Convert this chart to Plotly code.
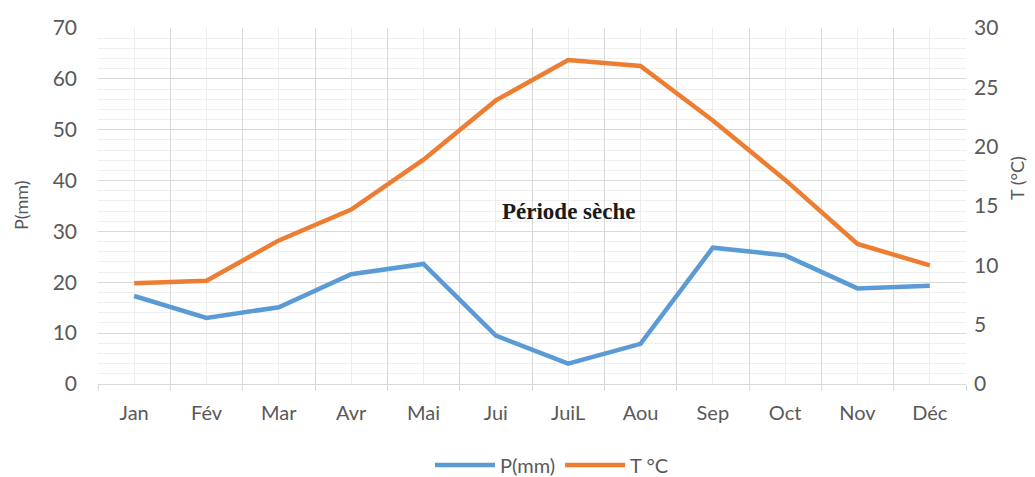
import plotly.graph_objects as go

# Monthly climate data
months = ["Jan", "Fév", "Mar", "Avr", "Mai", "Jui", "JuiL", "Aou", "Sep", "Oct", "Nov", "Déc"]
precip_mm = [17.3, 13.0, 15.1, 21.6, 23.6, 9.5, 4.0, 7.9, 26.8, 25.3, 18.8, 19.3]
temp_c = [8.5, 8.7, 12.1, 14.7, 18.9, 23.9, 27.3, 26.8, 22.2, 17.2, 11.8, 10.0]

p_ticks = [0, 10, 20, 30, 40, 50, 60, 70]
t_ticks = [0, 5, 10, 15, 20, 25, 30]

BLUE = "#5b9bd5"
ORANGE = "#ed7d31"
TXT = "#595959"
GRID = "#d9d9d9"
FONT = "Lato, Open Sans, sans-serif"

# the page body has an 8px margin, so the figure is a bit smaller
OFF = 8
W, H = 1035 - OFF, 477 - OFF
L, R, T, B = 98 - OFF, 69, 28 - OFF, 93

fig = go.Figure()

fig.add_trace(go.Scatter(
    x=months, y=precip_mm, name="P(mm)", mode="lines",
    line=dict(color=BLUE, width=4.5), xaxis="x", yaxis="y",
))
fig.add_trace(go.Scatter(
    x=months, y=temp_c, name="T °C", mode="lines",
    line=dict(color=ORANGE, width=4.5), xaxis="x2", yaxis="y2",
))

fig.add_annotation(
    x="JuiL", y=34, xref="x", yref="y", text="<b>Période sèche</b>",
    showarrow=False, font=dict(family="Liberation Serif, serif", size=23, color="#1a1a1a"),
)


def px_to_paper(px, py):
    return (px - OFF - L) / (W - L - R), (H - B - (py - OFF)) / (H - T - B)


ax, ay = px_to_paper(21, 205)
fig.add_annotation(
    x=ax, y=ay, xref="paper", yref="paper", text="P(mm)", textangle=-90,
    xanchor="center", yanchor="middle",
    showarrow=False, font=dict(family=FONT, size=18, color=TXT),
)
ax, ay = px_to_paper(1017, 178)
fig.add_annotation(
    x=ax, y=ay, xref="paper", yref="paper", text="T (°C)", textangle=-90,
    xanchor="center", yanchor="middle",
    showarrow=False, font=dict(family=FONT, size=18, color=TXT),
)
lx, ly = px_to_paper(552, 465)

fig.update_layout(
    width=W, height=H,
    margin=dict(l=L, r=R, t=T, b=B, autoexpand=False),
    plot_bgcolor="white", paper_bgcolor="white",
    font=dict(family=FONT, size=20, color=TXT),
    showlegend=True,
    legend=dict(orientation="h", x=lx, xanchor="center", y=ly, yanchor="middle",
                font=dict(size=20, color=TXT), itemwidth=60),
    xaxis=dict(
        type="category", categoryarray=months, range=[-0.5, 11.5],
        tickson="boundaries", showgrid=True, gridcolor=GRID, gridwidth=1,
        ticks="outside", ticklen=6, tickcolor=GRID,
        showline=True, linecolor=GRID, ticklabelstandoff=11, automargin=False,
        tickfont=dict(size=20, color=TXT), fixedrange=True,
    ),
    xaxis2=dict(
        type="category", categoryarray=months, range=[-0.5, 11.5],
        overlaying="x", showgrid=True, gridcolor="#ececec", gridwidth=1,
        showticklabels=False, ticks="", automargin=False,
    ),
    yaxis=dict(
        range=[0, 70], tickvals=p_ticks, showgrid=True, gridcolor=GRID,
        minor=dict(dtick=2, showgrid=True, gridcolor="#efefef"),
        zeroline=False, ticks="", ticklabelstandoff=20, automargin=False,
        tickfont=dict(size=21, color=TXT),
    ),
    yaxis2=dict(
        range=[0, 30], tickvals=t_ticks, overlaying="y", side="right", anchor="x2",
        showgrid=False, zeroline=False, ticks="", ticklabelstandoff=7, automargin=False,
        tickfont=dict(size=21, color=TXT),
    ),
)

fig.write_html("out.html")
